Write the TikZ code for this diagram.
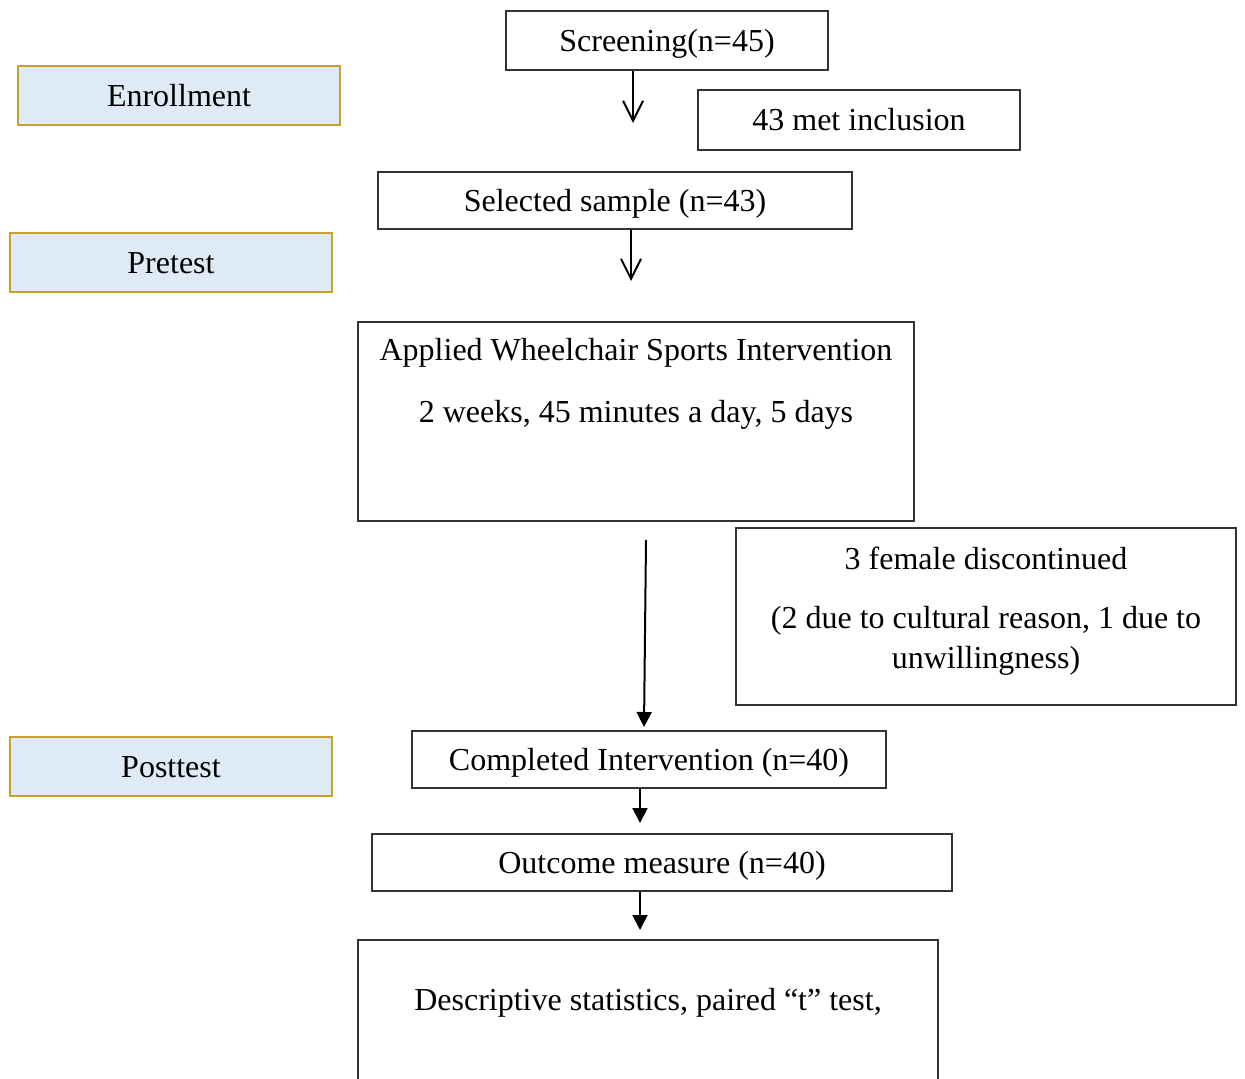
\documentclass[tikz,border=0pt]{standalone}
\usepackage{fontspec}
\setmainfont{Liberation Serif}
\usetikzlibrary{arrows.meta, positioning}
\definecolor{phasefill}{HTML}{DEEAF6}
\definecolor{phaseline}{HTML}{C9A030}
\tikzset{
  flowbox/.style={draw=black!80,line width=0.6pt,inner sep=0pt,text height=11pt,text depth=0pt,font=\fontsize{16}{20}\selectfont},
  phasebox/.style={flowbox,draw=phaseline,fill=phasefill},
  flowtxt/.style={inner sep=0pt,align=center,font=\fontsize{16}{20}\selectfont},
  openarr/.style={-{Straight Barb[length=10pt,width=10pt]},line width=1pt},
  solidarr/.style={-{Triangle[length=7.5pt,width=7.5pt]},line width=1pt},
}

\begin{document}
\begin{tikzpicture}[x=0.5pt,y=-0.5pt]
  \clip (0,0) rectangle (1245,1079);
  % phase labels
  \node[phasebox,minimum width=161pt,minimum height=29.5pt] (enrl) at (179,95.5) {Enrollment};
  \node[phasebox,minimum width=161pt,minimum height=29.5pt] (pre) at (171,262.5) {Pretest};
  \node[phasebox,minimum width=161pt,minimum height=29.5pt] (post) at (171,766.5) {Posttest};
  % main flow
  \node[flowbox,minimum width=161pt,minimum height=29.5pt] (scrn) at (667,40.5) {Screening(n=45)};
  \node[flowbox,minimum width=161pt,minimum height=30pt] (incl) at (859,120) {43 met inclusion};
  \node[flowbox,minimum width=237pt,minimum height=28.5pt] (sel) at (615,200.5) {Selected sample (n=43)};
  \node[flowbox,minimum width=278pt,minimum height=99.5pt] (intv) at (636,421.5) {};
  \node[flowtxt] (intvA) at (636,353) {Applied Wheelchair Sports Intervention};
  \node[flowtxt] (intvB) at (636,415) {2 weeks, 45 minutes a day, 5 days};
  \node[flowbox,minimum width=250pt,minimum height=88.5pt] (drop) at (986,616.5) {};
  \node[flowtxt] (dropA) at (986,558) {3 female discontinued};
  \node[flowtxt] (dropB) at (986,641) {(2 due to cultural reason, 1 due to\\unwillingness)};
  \node[flowbox,minimum width=237pt,minimum height=28.5pt] (done) at (649,759.5) {Completed Intervention (n=40)};
  \node[flowbox,minimum width=290pt,minimum height=28.5pt] (outc) at (662,862.5) {Outcome measure (n=40)};
  \node[flowbox,minimum width=290pt,minimum height=80pt] (stat) at (648,1020) {};
  \node[flowtxt] (statA) at (648,1003) {Descriptive statistics, paired ``t'' test,};
  % arrows
  \coordinate (e1) at (633,123);
  \coordinate (e2) at (631,281);
  \coordinate (s3) at (646,540);
  \coordinate (e3) at (644,727);
  \coordinate (e4) at (640,823);
  \coordinate (e5) at (640,930);
  \draw[openarr] (scrn.south -| e1) -- (e1);
  \draw[openarr] (sel.south -| e2) -- (e2);
  \draw[solidarr] (s3) -- (e3);
  \draw[solidarr] (done.south -| e4) -- (e4);
  \draw[solidarr] (outc.south -| e5) -- (e5);
\end{tikzpicture}
\end{document}
